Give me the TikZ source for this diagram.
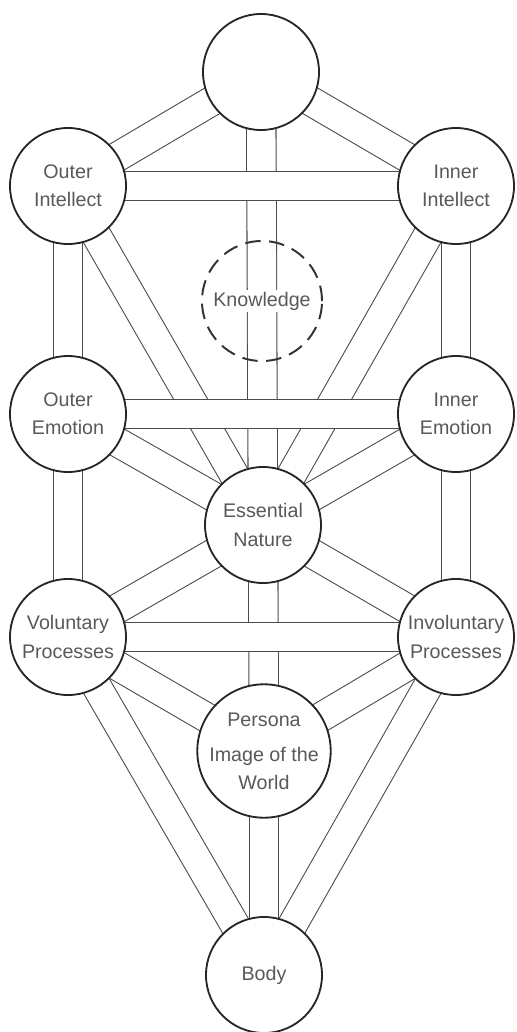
\documentclass[tikz,border=0pt]{standalone}
\usepackage{fontspec}
\setmainfont{Liberation Sans}
\usetikzlibrary{backgrounds}

\begin{document}
\begin{tikzpicture}[x=0.025cm, y=-0.025cm,
  sphere/.style={circle, draw=black!85, line width=1.3pt, fill=white, minimum size=2.9cm,
    inner sep=0pt, align=center, text=black!65, font=\fontsize{14}{20}\selectfont},
  channel/.style={draw=black!70, line width=0.75pt, double=white, double distance=0.71cm}]
  \useasboundingbox (0,0) rectangle (516,1032);
  % the spheres
  \node[sphere] (crown) at (261,72) {};
  \node[sphere] (ointel) at (68,186) {Outer\\Intellect};
  \node[sphere] (iintel) at (456,186) {Inner\\Intellect};
  \node[circle, draw=black!80, line width=1.4pt, dash pattern=on 11pt off 6pt,
    minimum size=3.0cm] (know) at (262,301) {};
  \node[fill=white, inner sep=1pt, text=black!65, font=\fontsize{14}{20}\selectfont] (knowtext) at (know) {Knowledge};
  \node[sphere] (oemo) at (68,414) {Outer\\Emotion};
  \node[sphere] (iemo) at (456,414) {Inner\\Emotion};
  \node[sphere] (ess) at (263,525) {Essential\\Nature};
  \node[sphere] (vol) at (68,637) {Voluntary\\Processes};
  \node[sphere] (invol) at (456,637) {Involuntary\\Processes};
  \node[sphere] (pers) at (264,751) {Persona\\[5pt]Image of the\\World};
  \node[sphere] (body) at (264,975) {Body};
  % the paths between them
  \begin{scope}[on background layer]
    \draw[channel] (crown.center) -- (ess.center);
    \draw[channel] (crown.center) -- (ointel.center);
    \draw[channel] (crown.center) -- (iintel.center);
    \draw[channel] (ointel.center) -- (ess.center);
    \draw[channel] (iintel.center) -- (ess.center);
    \draw[channel] (oemo.center) -- (ess.center);
    \draw[channel] (iemo.center) -- (ess.center);
    \draw[channel] (vol.center) -- (ess.center);
    \draw[channel] (invol.center) -- (ess.center);
    \draw[channel] (ess.center) -- (pers.center);
    \draw[channel] (vol.center) -- (pers.center);
    \draw[channel] (invol.center) -- (pers.center);
    \draw[channel] (vol.center) -- (body.center);
    \draw[channel] (invol.center) -- (body.center);
    \draw[channel] (pers.center) -- (body.center);
    \draw[channel] (ointel.center) -- (oemo.center);
    \draw[channel] (oemo.center) -- (vol.center);
    \draw[channel] (iintel.center) -- (iemo.center);
    \draw[channel] (iemo.center) -- (invol.center);
    \draw[channel] (ointel.center) -- (iintel.center);
    \draw[channel] (oemo.center) -- (iemo.center);
    \draw[channel] (vol.center) -- (invol.center);
  \end{scope}
\end{tikzpicture}
\end{document}
